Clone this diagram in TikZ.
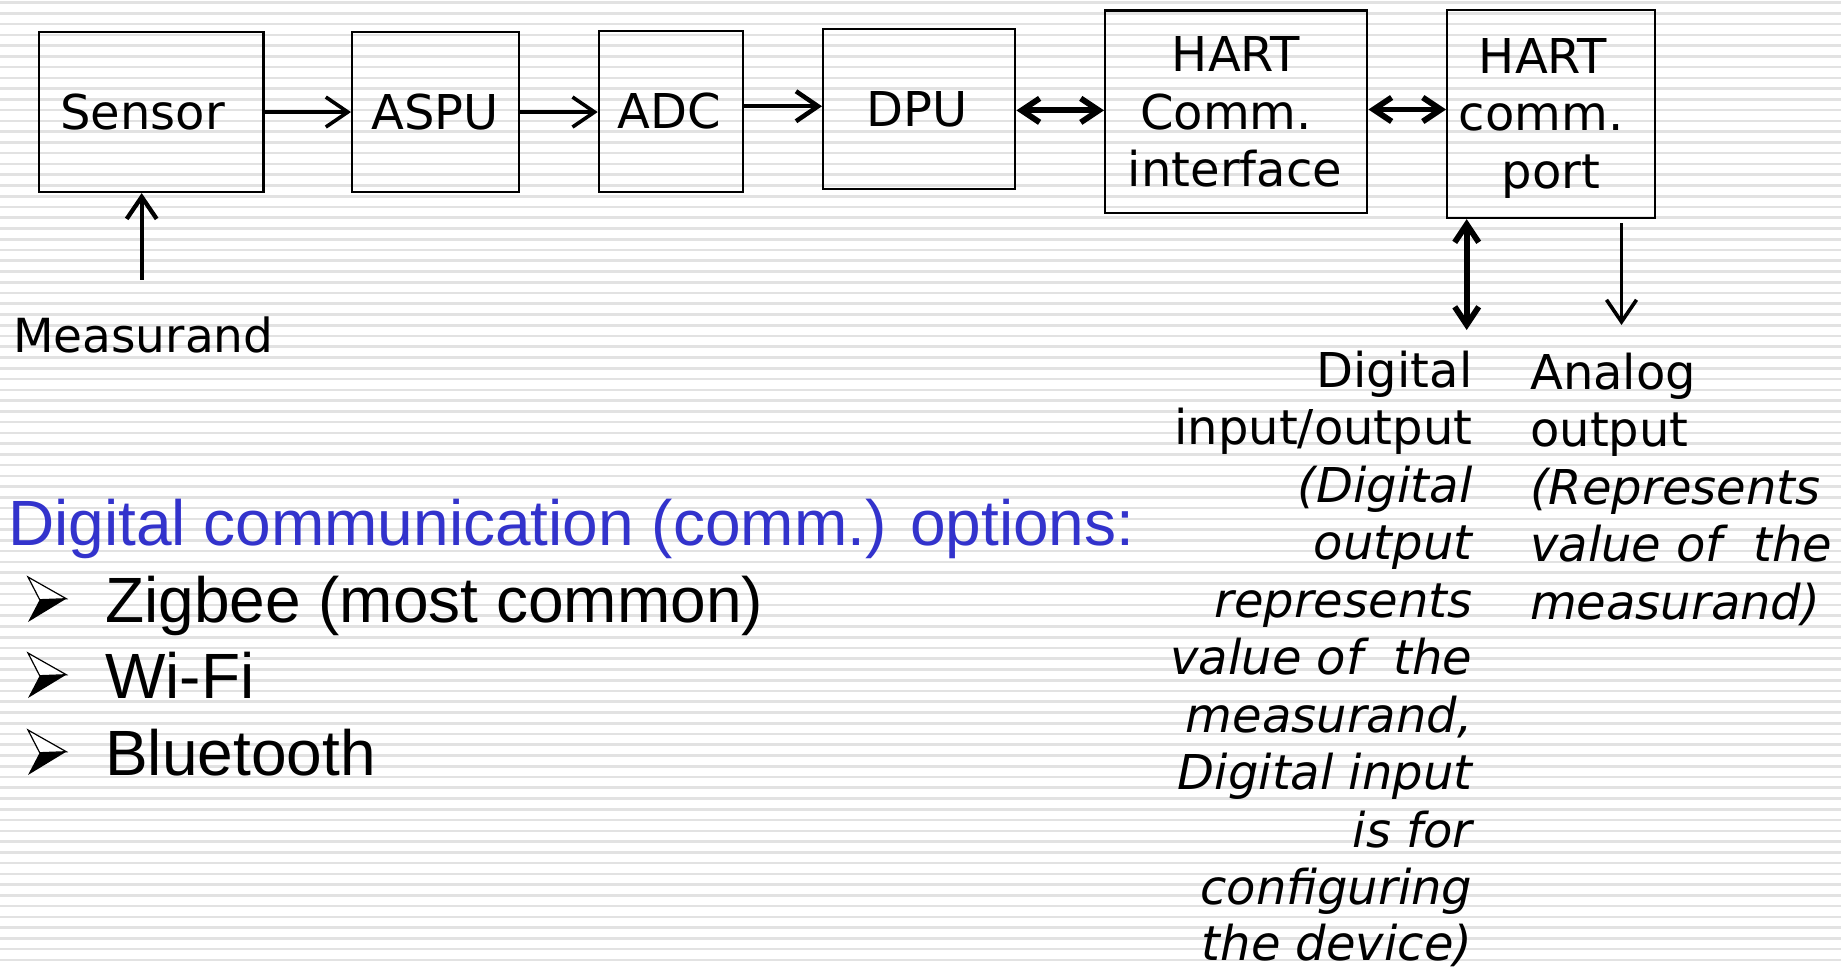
\documentclass[tikz,border=0pt]{standalone}
\usepackage{fontspec}
\setmainfont{DejaVu Sans}[ItalicFont={DejaVu Sans Oblique}]
\newfontfamily\arfont{Liberation Sans}
\usetikzlibrary{arrows.meta}
\definecolor{stripegray}{RGB}{226,226,226}
\definecolor{headblue}{RGB}{51,51,204}
\newcommand{\dvfont}{\fontsize{48}{57.5}\selectfont}
\newcommand{\bigar}{\arfont\fontsize{64}{76}\selectfont}
\tikzset{
  bgstripe/.style={draw=stripegray, line width=2.6pt},
  blk/.style={draw, line width=2.4pt, inner sep=0pt, anchor=north west},
  lbl/.style={inner sep=0pt, font=\dvfont},
  arr/.style={line width=3.6pt, -{Straight Barb[length=22pt, width=30pt]}},
  dbl/.style={line width=5.8pt, {Straight Barb[length=18pt, width=24pt]}-{Straight Barb[length=18pt, width=24pt]}},
  bulletarrow/.pic={
    \fill[black] (11.7,22.7) -- (38.3,21.7) -- (0,45) -- cycle;
    \draw[line width=1.2pt, fill=white, line join=miter] (0,0) -- (38.3,21.7) -- (11.7,22.7) -- cycle;
  }
}
\begin{document}
\begin{tikzpicture}[x=1pt,y=-1pt]
\useasboundingbox (0,0) rectangle (1841,968);
\fill[white] (0,0) rectangle (1841,968);
\foreach \i in {0,...,89} \draw[bgstripe] (0,{2.6+\i*10.756}) -- (1841,{2.6+\i*10.756});

% boxes
\node[blk, minimum width=224.6pt, minimum height=159.7pt] (sensor) at (37.7,31) {};
\node[blk, minimum width=167pt, minimum height=159.7pt] (aspu) at (351,31) {};
\node[blk, minimum width=144.3pt, minimum height=160.7pt] (adc) at (597.7,30) {};
\node[blk, minimum width=192pt, minimum height=160pt] (dpu) at (822,27.7) {};
\node[blk, minimum width=262pt, minimum height=202.4pt] (hart) at (1104,9.3) {};
\node[blk, minimum width=207.5pt, minimum height=208pt] (port) at (1446,8.7) {};

% box labels
\node[lbl, anchor=base] (tsensor) at (142.5,129.3) {Sensor};
\node[lbl, anchor=base] (taspu) at (435,129.3) {ASPU};
\node[lbl, anchor=base] (tadc) at (669.5,129) {ADC};
\node[lbl, anchor=base] (tdpu) at (917.5,126.7) {DPU};
\node[lbl, anchor=base] (th1) at (1236,71.7) {HART};
\node[lbl, anchor=base] (th2) at (1226,130) {Comm.};
\node[lbl, anchor=base] (th3) at (1235,186.7) {interface};
\node[lbl, anchor=base] (tp1) at (1543,73.5) {HART};
\node[lbl, anchor=base] (tp2) at (1541,131) {comm.};
\node[lbl, anchor=base] (tp3) at (1551,188.5) {port};

% connectors
\draw[arr] (sensor.east) -- (sensor.east -| aspu.west);
\draw[arr] (aspu.east) -- (aspu.east -| adc.west);
\draw[arr, line width=4.5pt] ([yshift=5.3pt]adc.east) -- ([yshift=5.3pt]adc.east -| dpu.west);
\draw[dbl] ([yshift=-1.5pt]dpu.east) -- ([yshift=-1.5pt]dpu.east -| hart.west);
\draw[dbl] ([yshift=2.2pt]hart.east) -- ([yshift=2.2pt]hart.east -| port.west);

\coordinate (mbase) at (141.7,280);
\draw[arr, line width=4.3pt] (mbase) -- (mbase |- sensor.south);
\node[lbl, anchor=base west, font=\fontsize{47}{56}\selectfont] (meas) at (13,352.7) {Measurand};

\coordinate (dio) at (1466.7,330);
\draw[dbl] (dio |- port.south) -- (dio);
\coordinate (aobot) at (1621.5,325);
\draw[arr] ([yshift=-4pt]aobot |- port.south) -- (aobot);

% digital input/output text
\node[lbl, anchor=base east] (d1) at (1472.5,387) {Digital};
\node[lbl, anchor=base east] (d2) at (1472.5,444.5) {input/output};
\node[lbl, anchor=base east] (d3) at (1472.5,502) {\itshape (Digital};
\node[lbl, anchor=base east] (d4) at (1472.5,559.5) {\itshape output};
\node[lbl, anchor=base east] (d5) at (1472.5,617) {\itshape represents};
\node[lbl, anchor=base east] (d6) at (1472.5,674.5) {\itshape value of\ \ the};
\node[lbl, anchor=base east] (d7) at (1472.5,732) {\itshape measurand,};
\node[lbl, anchor=base east] (d8) at (1472.5,789.5) {\itshape Digital input};
\node[lbl, anchor=base east] (d9) at (1472.5,847) {\itshape is for};
\node[lbl, anchor=base east] (d10) at (1472.5,904.5) {\itshape configuring};
\node[lbl, anchor=base east] (d11) at (1472.5,960) {\itshape the device)};

% analog output text
\node[lbl, anchor=base west] (a1) at (1530,389) {Analog};
\node[lbl, anchor=base west] (a2) at (1530,446.5) {output};
\node[lbl, anchor=base west] (a3) at (1530,504) {\itshape (Represents};
\node[lbl, anchor=base west] (a4) at (1530,561.5) {\itshape value of\ \ the};
\node[lbl, anchor=base west] (a5) at (1530,619) {\itshape measurand)};

% digital communication options
\node[inner sep=0pt, anchor=base west, font=\bigar, text=headblue] (head) at (8,545) {Digital communication (comm.) options:};
\pic at (28,577) {bulletarrow};
\pic at (28,653) {bulletarrow};
\pic at (28,730) {bulletarrow};
\node[inner sep=0pt, anchor=base west, font=\bigar] (b1) at (105,622) {Zigbee (most common)};
\node[inner sep=0pt, anchor=base west, font=\bigar] (b2) at (105,698) {Wi-Fi};
\node[inner sep=0pt, anchor=base west, font=\bigar] (b3) at (105,775) {Bluetooth};
\end{tikzpicture}
\end{document}
